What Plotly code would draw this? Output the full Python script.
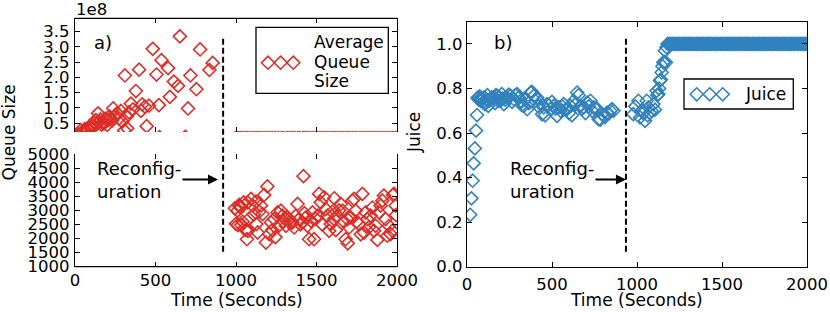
import plotly.graph_objects as go

# ---------------- data ----------------
# Panel a) average queue size, before reconfiguration (seconds, queue size)
PRE_TIME = [4, 12, 20, 28, 35, 44, 52, 60, 68, 76, 84, 92, 100, 107, 115, 122, 128,
            136, 143, 150, 158, 165, 170, 180, 190, 200, 206, 214, 221, 230, 237, 245,
            252, 262, 273, 285, 293, 306, 310, 320, 324, 335, 347, 360, 378, 398, 410,
            417, 434, 445, 459, 483, 506, 521, 525, 537, 578, 589, 614, 640, 651, 685,
            702, 717, 754, 777, 835, 855]
PRE_QUEUE = [0.05e8, 0.08e8, 0.12e8, 0.10e8, 0.27e8, 0.18e8, 0.22e8, 0.30e8, 0.25e8,
             0.33e8, 0.28e8, 0.40e8, 0.35e8, 0.44e8, 0.38e8, 0.52e8, 0.60e8, 0.47e8,
             0.82e8, 0.55e8, 0.62e8, 0.45e8, 0.52e8, 0.49e8, 0.65e8, 0.44e8, 0.60e8,
             0.72e8, 0.65e8, 0.58e8, 0.98e8, 0.70e8, 0.76e8, 0.82e8, 0.65e8, 0.90e8,
             0.55e8, 0.26e8, 2.06e8, 0.71e8, 0.33e8, 0.85e8, 1.14e8, 0.95e8, 1.55e8,
             2.25e8, 0.90e8, 1.11e8, 1.04e8, 0.40e8, 1.07e8, 2.93e8, 2.09e8, 1.09e8,
             0.04e8, 2.56e8, 2.30e8, 1.36e8, 1.86e8, 1.72e8, 3.34e8, 0.05e8, 0.98e8,
             2.06e8, 1.61e8, 2.91e8, 2.24e8, 2.47e8]

# Panel a) average queue size, after reconfiguration
POST_TIME = [993, 1000, 1010, 1012, 1020, 1023, 1031, 1033, 1041, 1047, 1060, 1068, 1072,
             1074, 1080, 1093, 1103, 1110, 1124, 1126, 1134, 1144, 1155, 1165, 1175,
             1186, 1195, 1206, 1217, 1225, 1237, 1245, 1258, 1265, 1279, 1289, 1295,
             1310, 1320, 1330, 1340, 1351, 1361, 1370, 1382, 1392, 1400, 1413, 1419,
             1425, 1434, 1444, 1454, 1465, 1475, 1485, 1495, 1506, 1516, 1526, 1535,
             1547, 1557, 1568, 1578, 1588, 1598, 1609, 1611, 1620, 1630, 1640, 1650,
             1661, 1670, 1681, 1692, 1694, 1702, 1712, 1723, 1733, 1743, 1750, 1764,
             1775, 1785, 1795, 1805, 1816, 1826, 1836, 1847, 1857, 1867, 1878, 1888,
             1898, 1909, 1919, 1929, 1940, 1950, 1960, 1971, 1975, 1981, 1991, 1995]
POST_QUEUE = [3071, 2520, 2988, 2480, 3190, 3131, 3107, 2476, 2595, 3285, 2300, 1976,
              3285, 2274, 2700, 3404, 3166, 2850, 3309, 2512, 2214, 2952, 3166, 2869,
              3547, 1857, 3850, 2155, 2571, 2300, 2690, 2050, 2928, 2450, 2988, 2809,
              2600, 2452, 2750, 2690, 2550, 2571, 2393, 2800, 3226, 2690, 2500, 2571,
              4213, 2900, 2750, 2452, 1976, 2631, 2928, 1976, 2700, 2809, 3583, 3285,
              2500, 3464, 3047, 2809, 2274, 2512, 2950, 2690, 3428, 2300, 2809, 3000,
              3226, 2988, 2600, 1976, 2690, 1830, 2393, 2750, 3345, 3404, 2988, 2600,
              2512, 2150, 3583, 2214, 2928, 2690, 2400, 2809, 3100, 2274, 2452, 1950,
              2928, 3166, 3345, 3523, 2690, 2100, 2452, 2155, 2274, 3545, 3583, 3166,
              2835]

# Panel b) juice
JUICE_TIME = [19, 26, 33, 39, 46, 53, 59, 62, 66, 70, 75, 80, 85, 90, 95, 100, 105, 109,
              115, 120, 125, 130, 139, 145, 150, 158, 165, 170, 178, 185, 190, 197, 205,
              210, 217, 225, 236, 245, 256, 265, 276, 285, 295, 305, 315, 323, 334, 343,
              354, 364, 374, 382, 393, 402, 413, 420, 432, 442, 452, 460, 471, 480, 491,
              500, 510, 520, 530, 540, 550, 560, 569, 580, 589, 600, 609, 617, 628, 638,
              648, 656, 667, 676, 687, 697, 707, 716, 726, 736, 746, 764, 775, 785, 794,
              813, 824, 833, 843, 853, 862,
              978, 990, 1008, 1018, 1027, 1037, 1047, 1057, 1062, 1067, 1076, 1086, 1096,
              1106, 1115, 1120, 1125, 1130, 1135, 1140, 1145, 1150, 1155, 1160, 1164,
              1170, 1174,
              1180, 1190, 1200, 1210, 1220, 1230, 1240, 1250, 1260, 1270, 1280, 1290,
              1300, 1310, 1320, 1330, 1340, 1350, 1360, 1370, 1380, 1390, 1400, 1410,
              1420, 1430, 1440, 1450, 1460, 1470, 1480, 1490, 1500, 1510, 1520, 1530,
              1540, 1550, 1560, 1570, 1580, 1590, 1600, 1610, 1620, 1630, 1640, 1650,
              1660, 1670, 1680, 1690, 1700, 1710, 1720, 1730, 1740, 1750, 1760, 1770,
              1780, 1790, 1800, 1810, 1820, 1830, 1840, 1850, 1860, 1870, 1880, 1890,
              1900, 1910, 1920, 1930, 1940, 1950, 1960, 1970, 1980, 1990, 2000]
JUICE = [0.233, 0.307, 0.386, 0.464, 0.531, 0.611, 0.681, 0.757, 0.76, 0.75, 0.765, 0.745,
         0.755, 0.752, 0.74, 0.76, 0.73, 0.737, 0.75, 0.77, 0.722, 0.745, 0.752, 0.76,
         0.757, 0.759, 0.735, 0.77, 0.767, 0.745, 0.76, 0.745, 0.775, 0.755, 0.73, 0.75,
         0.759, 0.772, 0.767, 0.74, 0.752, 0.77, 0.775, 0.76, 0.745, 0.725, 0.722, 0.75,
         0.707, 0.735, 0.782, 0.785, 0.767, 0.745, 0.759, 0.72, 0.737, 0.684, 0.715, 0.68,
         0.73, 0.725, 0.707, 0.74, 0.722, 0.71, 0.677, 0.715, 0.70, 0.72, 0.73, 0.705,
         0.707, 0.69, 0.722, 0.68, 0.745, 0.73, 0.782, 0.77, 0.722, 0.71, 0.715, 0.69,
         0.737, 0.72, 0.745, 0.70, 0.715, 0.71, 0.662, 0.66, 0.684, 0.673, 0.692, 0.687,
         0.70, 0.707, 0.70,
         0.685, 0.72, 0.745, 0.67, 0.70, 0.69, 0.655, 0.745, 0.68, 0.715, 0.69, 0.70, 0.73,
         0.705, 0.79, 0.77, 0.775, 0.80, 0.835, 0.84, 0.872, 0.90, 0.917, 0.92, 0.97,
         0.917, 0.985,
         1.0, 1.0, 1.0, 1.0, 1.0, 1.0, 1.0, 1.0, 1.0, 1.0, 1.0, 1.0,
         1.0, 1.0, 1.0, 1.0, 1.0, 1.0, 1.0, 1.0, 1.0, 1.0, 1.0, 1.0,
         1.0, 1.0, 1.0, 1.0, 1.0, 1.0, 1.0, 1.0, 1.0, 1.0, 1.0, 1.0,
         1.0, 1.0, 1.0, 1.0, 1.0, 1.0, 1.0, 1.0, 1.0, 1.0, 1.0, 1.0,
         1.0, 1.0, 1.0, 1.0, 1.0, 1.0, 1.0, 1.0, 1.0, 1.0, 1.0, 1.0,
         1.0, 1.0, 1.0, 1.0, 1.0, 1.0, 1.0, 1.0, 1.0, 1.0, 1.0, 1.0,
         1.0, 1.0, 1.0, 1.0, 1.0, 1.0, 1.0, 1.0, 1.0, 1.0, 1.0]

RECONFIG_A = 920   # dashed line, panel a)
RECONFIG_B = 935   # dashed line, panel b)

X_TICKS = [0, 500, 1000, 1500, 2000]
X_TICK_TEXT = ["0", "500", "1000", "1500", "2000"]
TOP_TICKS = [0.5e8, 1.0e8, 1.5e8, 2.0e8, 2.5e8, 3.0e8, 3.5e8]
TOP_TICK_TEXT = ["0.5", "1.0", "1.5", "2.0", "2.5", "3.0", "3.5"]
LOW_TICKS = [1000, 1500, 2000, 2500, 3000, 3500, 4000, 4500, 5000]
LOW_TICK_TEXT = ["1000", "1500", "2000", "2500", "3000", "3500", "4000", "4500", "5000"]
JUICE_TICKS = [0.0, 0.2, 0.4, 0.6, 0.8, 1.0]
JUICE_TICK_TEXT = ["0.0", "0.2", "0.4", "0.6", "0.8", "1.0"]
LEGEND_SAMPLES = [0, 1, 2]   # three sample markers per legend entry

# ---------------- styling ----------------
W, H = 830, 312
FONT = "DejaVu Sans"
RED = "#de2d26"
BLUE = "#3182bd"
TICK_FS = 16.5
LABEL_FS = 17


def fx(p):
    return p / W


def fy(p):
    return 1 - p / H


queue_t = PRE_TIME + POST_TIME
queue_v = PRE_QUEUE + POST_QUEUE

mk_red = dict(symbol="diamond-open", size=10, color=RED, line=dict(width=1.6, color=RED))
mk_blue = dict(symbol="diamond-open", size=10, color=BLUE, line=dict(width=1.6, color=BLUE))

fig = go.Figure()
fig.add_trace(go.Scatter(x=queue_t, y=queue_v, mode="markers", marker=mk_red,
                         xaxis="x", yaxis="y", showlegend=False))
fig.add_trace(go.Scatter(x=queue_t, y=queue_v, mode="markers", marker=mk_red,
                         xaxis="x2", yaxis="y2", showlegend=False))
fig.add_trace(go.Scatter(x=JUICE_TIME, y=JUICE, mode="markers", marker=mk_blue,
                         xaxis="x3", yaxis="y3", showlegend=False))
fig.add_trace(go.Scatter(x=LEGEND_SAMPLES, y=[0] * len(LEGEND_SAMPLES), mode="markers",
                         marker=mk_red, xaxis="x4", yaxis="y4", showlegend=False,
                         cliponaxis=False, hoverinfo="skip"))
fig.add_trace(go.Scatter(x=LEGEND_SAMPLES, y=[0] * len(LEGEND_SAMPLES), mode="markers",
                         marker=mk_blue, xaxis="x5", yaxis="y5", showlegend=False,
                         cliponaxis=False, hoverinfo="skip"))

common = dict(ticks="inside", ticklen=5, tickwidth=1, tickcolor="black",
              showgrid=False, zeroline=False, linecolor="black", linewidth=1.3,
              automargin=False,
              tickfont=dict(family=FONT, size=TICK_FS, color="black"))

LX = [fx(75), fx(397)]
RX = [fx(467), fx(807)]

fig.update_layout(
    template="none",
    width=W, height=H,
    margin=dict(l=0, r=0, t=0, b=0, pad=0),
    paper_bgcolor="white", plot_bgcolor="rgba(0,0,0,0)",
    font=dict(family=FONT, size=LABEL_FS, color="black"),
    showlegend=False,
    xaxis=dict(domain=LX, anchor="y", range=[0, 2000], tickvals=X_TICKS,
               ticktext=X_TICK_TEXT, showline=False, mirror="ticks",
               ticklabelstandoff=2, **common),
    yaxis=dict(domain=[fy(266.7), fy(154)], anchor="x", range=[1000, 5000],
               tickvals=LOW_TICKS, ticktext=LOW_TICK_TEXT, showline=True,
               mirror="ticks", ticklabelstandoff=1, **common),
    xaxis2=dict(domain=LX, anchor="y2", matches="x", range=[0, 2000], tickvals=X_TICKS,
                showticklabels=False, showline=False, mirror="ticks", **common),
    yaxis2=dict(domain=[fy(132), fy(18.3)], anchor="x2", range=[0.21e8, 3.93e8],
                tickvals=TOP_TICKS, ticktext=TOP_TICK_TEXT, showline=True,
                mirror="ticks", ticklabelstandoff=1, **common),
    xaxis3=dict(domain=RX, anchor="y3", range=[0, 2000], tickvals=X_TICKS,
                ticktext=X_TICK_TEXT, showline=True, mirror="ticks",
                ticklabelstandoff=2, **common),
    yaxis3=dict(domain=[fy(266.7), fy(21.7)], anchor="x3", range=[0, 1.1],
                tickvals=JUICE_TICKS, ticktext=JUICE_TICK_TEXT, showline=True,
                mirror="ticks", ticklabelstandoff=0, **common),
    xaxis4=dict(domain=[fx(268 - 12.67), fx(293.3 + 12.67)], anchor="y4",
                range=[-1, 3], visible=False, automargin=False),
    yaxis4=dict(domain=[fy(62.7 + 10), fy(62.7 - 10)], anchor="x4",
                range=[-1, 1], visible=False, automargin=False),
    xaxis5=dict(domain=[fx(696.7 - 13), fx(722.7 + 13)], anchor="y5",
                range=[-1, 3], visible=False, automargin=False),
    yaxis5=dict(domain=[fy(94.3 + 10), fy(94.3 - 10)], anchor="x5",
                range=[-1, 1], visible=False, automargin=False),
)

shapes = []
# spines missing because of the broken axis
shapes.append(dict(type="line", xref="x2 domain", yref="y2 domain", x0=0, x1=1, y0=1, y1=1,
                   line=dict(color="black", width=1.3)))
shapes.append(dict(type="line", xref="x domain", yref="y domain", x0=0, x1=1, y0=0, y1=0,
                   line=dict(color="black", width=1.3)))
# reconfiguration dashed lines
shapes.append(dict(type="line", xref="x", yref="paper", x0=RECONFIG_A, x1=RECONFIG_A,
                   y0=fy(251.7), y1=fy(38.3), line=dict(color="black", width=2, dash="6px,3px")))
shapes.append(dict(type="line", xref="x3", yref="paper", x0=RECONFIG_B, x1=RECONFIG_B,
                   y0=fy(251.7), y1=fy(38.3), line=dict(color="black", width=2, dash="6px,3px")))
# legend boxes
shapes.append(dict(type="rect", xref="paper", yref="paper", x0=fx(256), x1=fx(388.3),
                   y0=fy(93.3), y1=fy(27.3), line=dict(color="black", width=1.3),
                   fillcolor="white", layer="below"))
shapes.append(dict(type="rect", xref="paper", yref="paper", x0=fx(684), x1=fx(793.3),
                   y0=fy(109), y1=fy(79), line=dict(color="black", width=1.3),
                   fillcolor="white", layer="below"))
fig.update_layout(shapes=shapes)


def txt(text, x, y, size=LABEL_FS, xanchor="left", angle=0):
    return dict(text=text, xref="paper", yref="paper", x=fx(x), y=fy(y), xanchor=xanchor,
                yanchor="middle", showarrow=False, textangle=angle,
                font=dict(family=FONT, size=size, color="black"))


ann = [
    txt("1e8", 74, 9.5, size=TICK_FS),
    txt("a)", 92, 43, size=18),
    txt("b)", 491.5, 43, size=18),
    txt("Average", 312.3, 41.7),
    txt("Queue", 312.3, 61.7),
    txt("Size", 312.3, 81),
    txt("Juice", 743.3, 94),
    txt("Queue Size", 8.5, 133, xanchor="center", angle=-90),
    txt("Juice", 414, 133, xanchor="center", angle=-90),
    txt("Time (Seconds)", 236.5, 300, xanchor="center"),
    txt("Time (Seconds)", 636.7, 300, xanchor="center"),
    dict(text="Reconfig-<br>uration", xref="x", yref="paper", x=888, y=fy(179.5),
         ax=-79, ay=0, showarrow=True, arrowhead=2, arrowsize=1, arrowwidth=2,
         arrowcolor="black", align="left",
         font=dict(family=FONT, size=18, color="black")),
    dict(text="Reconfig-<br>uration", xref="x3", yref="paper", x=RECONFIG_B, y=fy(179.5),
         ax=-74, ay=0, showarrow=True, arrowhead=2, arrowsize=1, arrowwidth=2,
         arrowcolor="black", align="left",
         font=dict(family=FONT, size=18, color="black")),
]
fig.update_layout(annotations=ann)

# remove the default 8px page margin so the 830x312 figure fills the window
fig.write_html("out.html",
               config={"displayModeBar": False},
               post_script="document.body.style.margin='0';"
                           "document.body.style.overflow='hidden';")
